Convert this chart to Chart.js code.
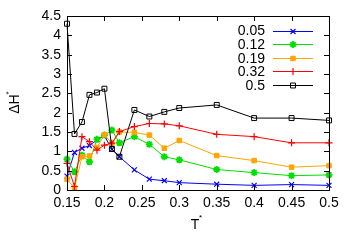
<!DOCTYPE html>
<html>
<head>
<meta charset="utf-8">
<script src="https://cdn.jsdelivr.net/npm/chart.js@4.4.0/dist/chart.umd.min.js"></script>
<style>
  body { margin: 0; background: #fff; }
  canvas { display: block; }
</style>
</head>
<body>
<canvas id="dhChart" width="354" height="248"></canvas>
<script>
// T* values (x)
const tValues = [0.15, 0.16, 0.17, 0.18, 0.19, 0.2, 0.21, 0.22, 0.24, 0.26, 0.28, 0.3, 0.35, 0.4, 0.45, 0.5];

// delta H* for each series
const s005 = [0.36, 0.97, 1.08, 1.15, 1.30, 1.40, 1.05, 0.86, 0.52, 0.28, 0.24, 0.19, 0.15, 0.12, 0.14, 0.12];
const s012 = [0.80, 0.47, 0.90, 0.73, 1.31, 1.42, 1.55, 1.22, 1.38, 1.18, 0.86, 0.78, 0.53, 0.45, 0.37, 0.39];
const s019 = [0.28, 0.05, 0.86, 0.88, 1.10, 1.43, 1.20, 1.50, 1.49, 1.42, 1.08, 1.28, 0.89, 0.76, 0.59, 0.63];
const s032 = [0.69, 0.09, 1.38, 1.25, 1.03, 1.16, 1.21, 1.51, 1.64, 1.72, 1.71, 1.66, 1.44, 1.38, 1.22, 1.22];
const s05  = [4.30, 1.45, 1.76, 2.46, 2.52, 2.62, 1.06, 0.86, 2.07, 1.90, 2.02, 2.12, 2.20, 1.86, 1.86, 1.80];

const seriesLabels = ['0.05', '0.12', '0.19', '0.32', '0.5'];
const xTickLabels = ['0.15', '0.2', '0.25', '0.3', '0.35', '0.4', '0.45', '0.5'];
const yTickLabels = ['0', '0.5', '1', '1.5', '2', '2.5', '3', '3.5', '4', '4.5'];

const FONT = '"Liberation Sans", Arial, sans-serif';

const styles = [
  { color: '#0000ff', point: 'crossRot', fill: '#0000ff', r: 3.5, bw: 1.2 },
  { color: '#00e000', point: 'star', fill: '#00e000', r: 3.5, bw: 1.8 },
  { color: '#ffa500', point: 'rect', fill: '#ffa500', r: 3.2, bw: 1 },
  { color: '#ff0000', point: 'cross', fill: '#ff0000', r: 3.5, bw: 1.2 },
  { color: '#000000', point: 'rect', fill: 'rgba(0,0,0,0)', r: 3.5, bw: 1 }
];

const allSeries = [s005, s012, s019, s032, s05];

const datasets = allSeries.map((s, i) => ({
  label: seriesLabels[i],
  data: tValues.map((t, j) => ({ x: t, y: s[j] })),
  borderColor: styles[i].color,
  backgroundColor: styles[i].fill,
  borderWidth: 1,
  pointStyle: styles[i].point,
  pointRadius: styles[i].r,
  pointBorderWidth: styles[i].bw,
  pointBorderColor: styles[i].color,
  pointBackgroundColor: styles[i].fill,
  tension: 0,
  clip: false,
  order: 5 - i
}));

// gnuplot style frame: box + inward ticks on all sides, legend, axis titles
const framePlugin = {
  id: 'frame',
  afterDraw(chart) {
    const ctx = chart.ctx;
    const a = chart.chartArea;
    const xs = chart.scales.x, ys = chart.scales.y;
    ctx.save();
    ctx.strokeStyle = '#000';
    ctx.lineWidth = 1;
    ctx.strokeRect(Math.round(a.left) + 0.5, Math.round(a.top) + 0.5,
      Math.round(a.right - a.left), Math.round(a.bottom - a.top));
    const tl = 5;
    ctx.beginPath();
    xs.ticks.forEach(t => {
      const px = Math.round(xs.getPixelForValue(t.value)) + 0.5;
      ctx.moveTo(px, a.bottom); ctx.lineTo(px, a.bottom - tl);
      ctx.moveTo(px, a.top); ctx.lineTo(px, a.top + tl);
    });
    ys.ticks.forEach(t => {
      const py = Math.round(ys.getPixelForValue(t.value)) + 0.5;
      ctx.moveTo(a.left, py); ctx.lineTo(a.left + tl, py);
      ctx.moveTo(a.right, py); ctx.lineTo(a.right - tl, py);
    });
    ctx.stroke();

    // legend
    ctx.font = '14px ' + FONT;
    ctx.fillStyle = '#000';
    ctx.textAlign = 'right';
    ctx.textBaseline = 'middle';
    seriesLabels.forEach((lab, i) => {
      const y = 30.5 + i * 13.6;
      ctx.fillStyle = '#000';
      ctx.fillText(lab, 265, y + 1);
      const st = styles[i];
      ctx.strokeStyle = st.color;
      ctx.lineWidth = 1;
      ctx.beginPath();
      ctx.moveTo(273, Math.round(y) + 0.5);
      ctx.lineTo(313, Math.round(y) + 0.5);
      ctx.stroke();
      ctx.fillStyle = st.fill;
      ctx.lineWidth = st.bw;
      Chart.helpers.drawPoint(ctx, { pointStyle: st.point, radius: st.r, rotation: 0, borderWidth: st.bw }, 293, Math.round(y) + 0.5);
    });

    // axis titles
    ctx.fillStyle = '#000';
    ctx.textAlign = 'center';
    ctx.textBaseline = 'middle';
    ctx.font = '14px ' + FONT;
    ctx.fillText('T', 195, 225);
    ctx.font = '8px ' + FONT;
    ctx.fillText('*', 200.5, 218);

    ctx.translate(15, 104);
    ctx.rotate(-Math.PI / 2);
    ctx.font = '14px ' + FONT;
    ctx.fillText('ΔH', 0, 0);
    ctx.font = '8px ' + FONT;
    ctx.fillText('*', 11, -6);
    ctx.restore();
  }
};

window.addEventListener('load', () => {
  const ctx = document.getElementById('dhChart').getContext('2d');
  new Chart(ctx, {
    type: 'line',
    data: { datasets },
    options: {
      responsive: false,
      animation: false,
      devicePixelRatio: 1,
      layout: { padding: { left: 0, top: 16, right: 25, bottom: 0 } },
      plugins: {
        legend: { display: false },
        tooltip: { enabled: false }
      },
      scales: {
        x: {
          type: 'linear',
          min: 0.15,
          max: 0.5,
          afterFit: s => { s.height = 58; },
          grid: { display: false, drawTicks: false },
          border: { display: false },
          ticks: {
            stepSize: 0.05,
            padding: 5,
            maxRotation: 0,
            autoSkip: false,
            color: '#000',
            font: { family: FONT, size: 14 },
            callback: (v, i) => xTickLabels[i]
          }
        },
        y: {
          min: 0,
          max: 4.5,
          afterFit: s => { s.width = 67; },
          grid: { display: false, drawTicks: false },
          border: { display: false },
          ticks: {
            stepSize: 0.5,
            padding: 6,
            autoSkip: false,
            color: '#000',
            font: { family: FONT, size: 14 },
            callback: (v, i) => yTickLabels[i]
          }
        }
      }
    },
    plugins: [framePlugin]
  });
});
</script>
</body>
</html>
